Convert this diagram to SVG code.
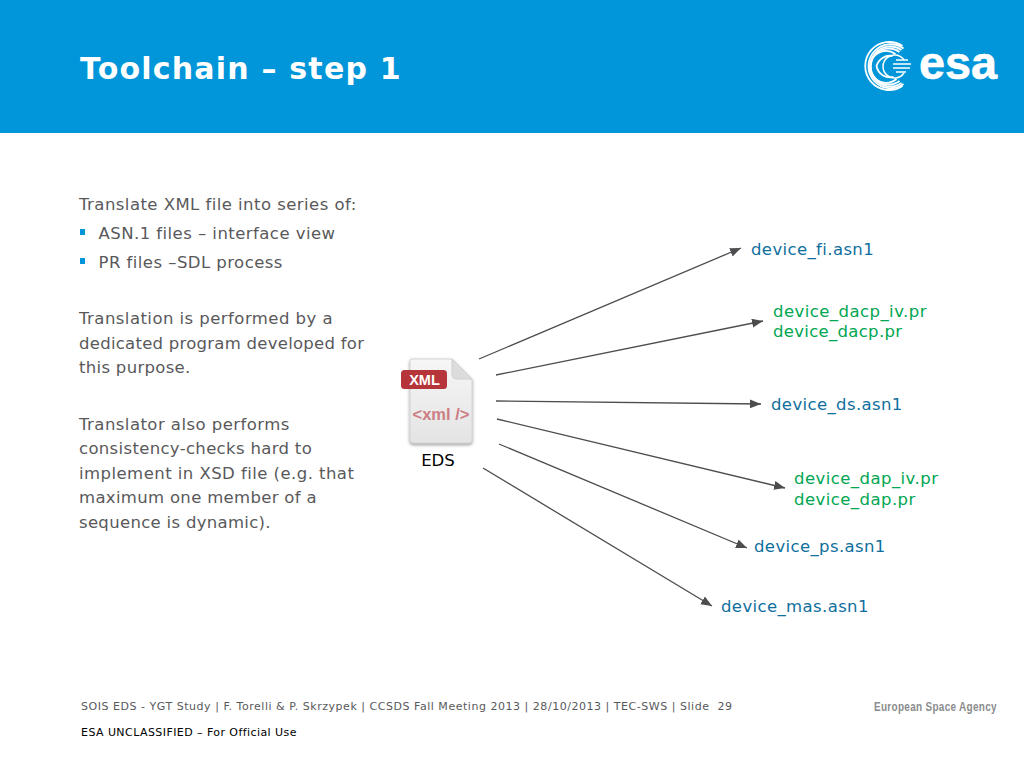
<svg xmlns="http://www.w3.org/2000/svg" width="1024" height="768" viewBox="0 0 1024 768">
<style>
text{font-family:"DejaVu Sans",Verdana,sans-serif}
.b{font-size:16.5px;fill:#59595b;letter-spacing:.45px}
.blue{font-size:16.5px;fill:#0f6f9e;letter-spacing:.38px}
.green{font-size:16.5px;fill:#00a651;letter-spacing:.44px}
.f{font-size:11px;fill:#58595b;letter-spacing:.53px}
.c{fill:none;stroke:#4d4d4f;stroke-width:1.3;marker-end:url(#a)}
.arc{fill:none;stroke:#fff;stroke-width:1.8}
.s{font-family:"Liberation Sans",sans-serif}
</style>
<defs>
<marker id="a" markerUnits="userSpaceOnUse" markerWidth="12" markerHeight="10" refX="11" refY="4.5" orient="auto"><path d="M0 0L11 4.500L0 9Z" fill="#4d4d4f"/></marker>
<linearGradient id="p" x1="0" y1="0" x2="0" y2="1"><stop offset="0" stop-color="#f6f6f6"/><stop offset="1" stop-color="#e4e4e4"/></linearGradient>
<filter id="sh" x="-20%" y="-20%" width="140%" height="140%"><feDropShadow dx="0" dy="1.500" stdDeviation="1.500" flood-color="#555" flood-opacity=".6"/></filter>
</defs>
<rect width="1024" height="768" fill="#fff"/>
<rect width="1024" height="133" fill="#0096d9"/>
<text x="80" y="79" font-size="30" font-weight="700" fill="#fff" letter-spacing="1.2">Toolchain – step 1</text>
<g id="esa-logo">
<g transform="translate(-2.500 0)">
<path class="arc" d="M905 46A24 24 0 1 0 905 86"/>
<path class="arc" d="M906 48.500A22 22 0 1 0 906 84"/>
<path class="arc" d="M904 50A20 20 0 1 0 904 83"/>
<path class="arc" d="M902 52A18 18 0 1 0 902 81"/>
<path class="arc" d="M898 54A16 16 0 1 0 899 79"/>
<path class="arc" d="M895 56A14 14 0 0 0 879 66A14 14 0 0 0 896 77"/>
</g>
<path d="M904 60A11.500 11.500 0 1 0 904 73" fill="none" stroke="#fff" stroke-width="1.500"/>
<path d="M896 60H908M893 64H911M893 68H910M896 72H906" stroke="#fff" stroke-width="1.500"/>
<text class="s" x="919" y="79" font-size="46" font-weight="700" fill="#fff" stroke="#fff" stroke-width=".6" textLength="78" lengthAdjust="spacingAndGlyphs">esa</text>
</g>
<g id="text-left">
<text class="b" x="79" y="210">Translate XML file into series of:</text>
<rect x="80" y="229" width="5" height="6" fill="#0096d9"/>
<text class="b" x="98.500" y="239">ASN.1 files – interface view</text>
<rect x="80" y="258" width="5" height="6" fill="#0096d9"/>
<text class="b" x="98.500" y="268">PR files –SDL process</text>
<text class="b" x="79" y="324">Translation is performed by a</text>
<text class="b" x="79" y="349" style="letter-spacing:.26px">dedicated program developed for</text>
<text class="b" x="79" y="373" style="letter-spacing:.3px">this purpose.</text>
<text class="b" x="79" y="430">Translator also performs</text>
<text class="b" x="79" y="454" style="letter-spacing:.33px">consistency-checks hard to</text>
<text class="b" x="79" y="479">implement in XSD file (e.g. that</text>
<text class="b" x="79" y="503" style="letter-spacing:.32px">maximum one member of a</text>
<text class="b" x="79" y="528" style="letter-spacing:.31px">sequence is dynamic).</text>
</g>
<g id="eds">
<path d="M410 361Q410 359 412 359H452L472 379V440Q472 443 469 443H413Q410 443 410 440Z" fill="url(#p)" stroke="#d4d4d4" filter="url(#sh)"/>
<path d="M452 359L472 379H457Q452 379 452 374Z" fill="#dcdcdc" stroke="#d0d0d0"/>
<rect x="401" y="370" width="46" height="19" rx="3.500" fill="#b5353a"/>
<text class="s" x="424.500" y="385" font-size="14.500" font-weight="700" fill="#fff" text-anchor="middle">XML</text>
<text class="s" x="441" y="420" font-size="16.500" font-weight="700" fill="#cd7d84" text-anchor="middle">&lt;xml /&gt;</text>
<text x="438" y="466" font-size="16.500" fill="#000" text-anchor="middle">EDS</text>
</g>
<g id="connectors">
<line class="c" x1="479" y1="359" x2="741" y2="248"/>
<line class="c" x1="496" y1="375" x2="763" y2="321"/>
<line class="c" x1="496" y1="401" x2="761" y2="404"/>
<line class="c" x1="497" y1="419" x2="785" y2="488"/>
<line class="c" x1="499" y1="444" x2="747" y2="548"/>
<line class="c" x1="483" y1="468" x2="712" y2="606"/>
</g>
<g id="n1"><text class="blue" x="751" y="255">device_fi.asn1</text></g>
<g id="n2"><text class="green" x="773" y="317">device_dacp_iv.pr</text><text class="green" x="773" y="337" style="letter-spacing:.3px">device_dacp.pr</text></g>
<g id="n3"><text class="blue" x="771" y="410">device_ds.asn1</text></g>
<g id="n4"><text class="green" x="794" y="484">device_dap_iv.pr</text><text class="green" x="794" y="505">device_dap.pr</text></g>
<g id="n5"><text class="blue" x="754" y="552">device_ps.asn1</text></g>
<g id="n6"><text class="blue" x="721" y="612">device_mas.asn1</text></g>
<g id="footer">
<text class="f" x="81" y="710" xml:space="preserve">SOIS EDS - YGT Study | F. Torelli &amp; P. Skrzypek | CCSDS Fall Meeting 2013 | 28/10/2013 | TEC-SWS | Slide  29</text>
<text x="81" y="736" font-size="11" fill="#000" letter-spacing=".43">ESA UNCLASSIFIED – For Official Use</text>
<text class="s" transform="translate(874 711) scale(.74 1)" font-size="13.500" font-weight="700" fill="#8a8c8e" letter-spacing=".4">European Space Agency</text>
</g>
</svg>
